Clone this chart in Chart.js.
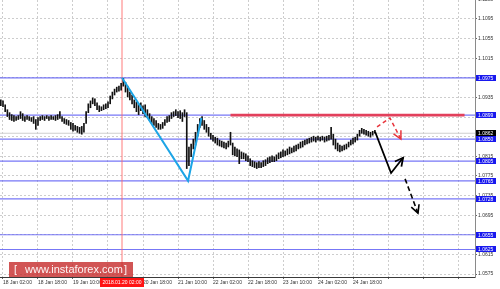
<!DOCTYPE html>
<html><head><meta charset="utf-8">
<style>html,body{margin:0;padding:0;background:#fff;}#wrap{width:500px;height:289px;position:relative;}</style>
<script src="https://cdn.jsdelivr.net/npm/chart.js@4"></script>
</head><body><div id="wrap"><canvas id="c"></canvas></div>
<script>
// ---- data (hourly bars, hour 0 = 18 Jan 02:00) ----
const firstHour = -1;
const barLows = [
1.0918,1.0916,1.0906,1.0896,1.0890,1.0888,1.0886,1.0888,1.0890,1.0892,
1.0888,1.0886,1.0890,1.0888,1.0886,1.0882,1.0870,1.0878,1.0888,1.0890,
1.0888,1.0892,1.0888,1.0890,1.0890,1.0888,1.0890,1.0892,1.0886,1.0882,
1.0880,1.0878,1.0870,1.0866,1.0868,1.0864,1.0862,1.0860,1.0864,1.0882,
1.0904,1.0914,1.0922,1.0918,1.0910,1.0906,1.0908,1.0910,1.0912,1.0914,
1.0922,1.0932,1.0940,1.0946,1.0948,1.0950,1.0958,1.0946,1.0936,1.0930,
1.0922,1.0914,1.0906,1.0900,1.0908,1.0902,1.0896,1.0894,1.0888,1.0882,
1.0878,1.0874,1.0870,1.0870,1.0872,1.0878,1.0884,1.0886,1.0892,1.0896,
1.0898,1.0894,1.0892,1.0886,1.0896,1.0790,1.0796,1.0814,1.0830,1.0838,
1.0856,1.0874,1.0878,1.0870,1.0864,1.0856,1.0850,1.0846,1.0842,1.0838,
1.0836,1.0834,1.0832,1.0830,1.0834,1.0838,1.0818,1.0816,1.0814,1.0800,
1.0810,1.0810,1.0806,1.0804,1.0796,1.0794,1.0792,1.0790,1.0792,1.0792,
1.0794,1.0796,1.0800,1.0802,1.0804,1.0804,1.0806,1.0810,1.0812,1.0814,
1.0816,1.0818,1.0820,1.0822,1.0824,1.0826,1.0830,1.0832,1.0834,1.0838,
1.0840,1.0842,1.0844,1.0846,1.0844,1.0848,1.0846,1.0848,1.0844,1.0846,
1.0848,1.0850,1.0838,1.0830,1.0826,1.0824,1.0826,1.0828,1.0830,1.0834,
1.0838,1.0840,1.0844,1.0848,1.0856,1.0862,1.0860,1.0858,1.0856,1.0854,
1.0858,1.0862];
const barHighs = [
1.0930,1.0928,1.0920,1.0910,1.0904,1.0900,1.0898,1.0896,1.0898,1.0906,
1.0902,1.0896,1.0898,1.0896,1.0894,1.0896,1.0890,1.0894,1.0896,1.0898,
1.0896,1.0898,1.0896,1.0898,1.0896,1.0898,1.0900,1.0906,1.0896,1.0892,
1.0890,1.0888,1.0884,1.0882,1.0878,1.0876,1.0874,1.0876,1.0882,1.0906,
1.0922,1.0928,1.0934,1.0932,1.0924,1.0918,1.0916,1.0920,1.0922,1.0926,
1.0938,1.0946,1.0952,1.0956,1.0958,1.0964,1.0974,1.0966,1.0958,1.0946,
1.0940,1.0930,1.0926,1.0922,1.0924,1.0918,1.0920,1.0910,1.0902,1.0896,
1.0892,1.0888,1.0882,1.0880,1.0884,1.0890,1.0896,1.0898,1.0904,1.0906,
1.0910,1.0906,1.0908,1.0904,1.0910,1.0904,1.0834,1.0840,1.0850,1.0864,
1.0880,1.0892,1.0896,1.0888,1.0880,1.0874,1.0862,1.0858,1.0854,1.0852,
1.0848,1.0846,1.0844,1.0842,1.0846,1.0864,1.0842,1.0834,1.0830,1.0828,
1.0824,1.0822,1.0820,1.0816,1.0810,1.0806,1.0804,1.0802,1.0804,1.0802,
1.0806,1.0808,1.0812,1.0814,1.0816,1.0814,1.0818,1.0822,1.0824,1.0828,
1.0826,1.0830,1.0834,1.0832,1.0836,1.0838,1.0840,1.0844,1.0846,1.0848,
1.0850,1.0852,1.0854,1.0856,1.0854,1.0856,1.0854,1.0856,1.0854,1.0856,
1.0858,1.0874,1.0860,1.0850,1.0842,1.0838,1.0836,1.0838,1.0840,1.0844,
1.0848,1.0852,1.0854,1.0860,1.0868,1.0872,1.0870,1.0868,1.0866,1.0864,
1.0866,1.0868];

const xTickHours = [0,16,32,48,64,80,96,112,128,144,160,176,192,208];
const xTickLabels = ["18 Jan 02:00","18 Jan 18:00","19 Jan 10:00","20 Jan 02:00","20 Jan 18:00",
  "21 Jan 10:00","22 Jan 02:00","22 Jan 18:00","23 Jan 10:00","24 Jan 02:00","24 Jan 18:00"];
const yTickValues = [1.1135,1.1095,1.1055,1.1015,1.0975,1.0935,1.0895,1.0855,1.0815,1.0775,1.0735,1.0695,1.0655,1.0615,1.0575];

const levelValues = [1.0975,1.0899,1.0850,1.0805,1.0765,1.0728,1.0655,1.0625];
const currentPrice = 1.0862;
const resistanceLevel = 1.0899;
const resistanceHours = [104, 211];
const crosshairHour = 54.4;
const crosshairLabel = "2018.01.20 02:00";

const waveHours = [54.4, 84.6, 90.7];
const wavePrices = [1.0975, 1.0765, 1.0893];
const mainArrowHours = [170.1, 177.4, 182.9];
const mainArrowPrices = [1.0865, 1.0781, 1.0812];
const nextArrowHours = [183.8, 189.7];
const nextArrowPrices = [1.0769, 1.0699];
const altArrowHours = [171.0, 176.9, 181.9];
const altArrowPrices = [1.0875, 1.0893, 1.0850];
const watermarkText = ["[", "www.instaforex.com", "]"];

// ---- chart ----
const X_MIN = -1.371, X_MAX = 215.77;
const Y_MIN = 1.05689, Y_MAX = 1.11337;
const FONT = 'Liberation Sans';
Chart.defaults.font.family = FONT;

const pts = (xs, ys) => xs.map((x, i) => ({x, y: ys[i]}));
const lineDs = (data, color, width, extra) => Object.assign({
  type: 'line', data, borderColor: color, borderWidth: width, pointRadius: 0,
  fill: false, tension: 0
}, extra || {});

const datasets = [];
levelValues.forEach(v => datasets.push(lineDs(pts([X_MIN, X_MAX], [v, v]), 'rgba(95,95,245,0.85)', 1.2, {order: 10})));
datasets.push(lineDs(pts([X_MIN, X_MAX], [currentPrice, currentPrice]), '#cfcfcf', 1, {order: 11}));
datasets.push(lineDs(pts([crosshairHour, crosshairHour], [Y_MIN, Y_MAX]), 'rgba(255,100,100,0.85)', 1, {order: 9}));
datasets.push(lineDs(pts(resistanceHours, [resistanceLevel, resistanceLevel]), '#e2405c', 2.6, {order: 8}));
datasets.push({
  type: 'bar', order: 5,
  data: barLows.map((l, i) => ({x: firstHour + i, y: [l, barHighs[i]]})),
  backgroundColor: '#111', borderWidth: 0, barThickness: 1, grouped: false
});
datasets.push(lineDs(pts(waveHours, wavePrices), '#1da5e6', 2, {order: 3}));
datasets.push(lineDs(pts(mainArrowHours, mainArrowPrices), '#000', 1.8, {order: 2, arrowHead: true}));
datasets.push(lineDs(pts(nextArrowHours, nextArrowPrices), '#000', 1.6, {order: 2, arrowHead: true, borderDash: [5, 3]}));
datasets.push(lineDs(pts(altArrowHours, altArrowPrices), '#e8353d', 1.5, {order: 2, arrowHead: true, borderDash: [4, 3]}));

const arrowPlugin = {
  id: 'arrows',
  afterDatasetsDraw(chart) {
    const ctx = chart.ctx;
    chart.data.datasets.forEach((ds, i) => {
      if (!ds.arrowHead) return;
      const el = chart.getDatasetMeta(i).data;
      const a = el[el.length - 2], b = el[el.length - 1];
      const ang = Math.atan2(b.y - a.y, b.x - a.x);
      const L = 9, spread = 0.48;
      ctx.save();
      ctx.strokeStyle = ds.borderColor; ctx.lineWidth = ds.borderWidth; ctx.setLineDash([]);
      ctx.beginPath();
      ctx.moveTo(b.x - L * Math.cos(ang - spread), b.y - L * Math.sin(ang - spread));
      ctx.lineTo(b.x, b.y);
      ctx.lineTo(b.x - L * Math.cos(ang + spread), b.y - L * Math.sin(ang + spread));
      ctx.stroke();
      ctx.restore();
    });
  }
};

const labelPlugin = {
  id: 'labels',
  afterDraw(chart) {
    const ctx = chart.ctx, ys = chart.scales.y, xs = chart.scales.x, area = chart.chartArea;
    ctx.save();
    ctx.font = '5px ' + FONT;
    ctx.textBaseline = 'middle';
    ctx.textAlign = 'left';
    const box = (v, bg) => {
      const y = ys.getPixelForValue(v);
      ctx.fillStyle = bg;
      ctx.fillRect(area.right + 1, Math.round(y) - 3, 20, 6);
      ctx.fillStyle = '#fff';
      ctx.fillText(v.toFixed(4), area.right + 3, y + 0.5);
    };
    levelValues.forEach(v => box(v, '#1818ee'));
    box(currentPrice, '#000');
    // crosshair time label
    const cx = xs.getPixelForValue(crosshairHour);
    ctx.fillStyle = '#ff1414';
    ctx.fillRect(Math.round(cx) - 22, area.bottom + 1, 44, 9);
    ctx.fillStyle = '#fff';
    ctx.textAlign = 'center';
    ctx.fillText(crosshairLabel, cx, area.bottom + 5.5);
    // watermark
    ctx.fillStyle = 'rgba(198,42,42,0.8)';
    ctx.fillRect(9, area.bottom - 15, 124, 15);
    ctx.fillStyle = 'rgba(255,255,255,0.95)';
    ctx.textAlign = 'left';
    ctx.font = '11px ' + FONT;
    ctx.fillText(watermarkText[0], 14, area.bottom - 7);
    ctx.fillText(watermarkText[1], 25, area.bottom - 7);
    ctx.fillText(watermarkText[2], 124, area.bottom - 7);
    ctx.restore();
  }
};

new Chart(document.getElementById('c'), {
  type: 'bar',
  data: {datasets},
  options: {
    responsive: true, maintainAspectRatio: false, animation: false, events: [],
    layout: {padding: 0},
    plugins: {legend: {display: false}, tooltip: {enabled: false}},
    scales: {
      x: {
        type: 'linear', position: 'bottom', min: X_MIN, max: X_MAX, bounds: 'data', offset: false,
        grid: {color: '#cdcdcd', lineWidth: 1, tickLength: 2, tickColor: '#666', offset: false},
        border: {display: true, color: '#3a3a3a', width: 1, dash: [2, 2]},
        ticks: {align: 'start', autoSkip: false, maxRotation: 0, minRotation: 0, padding: 1,
          font: {family: FONT, size: 5}, color: '#333',
          callback: (v, i) => xTickLabels[i] || ''},
        afterBuildTicks: s => { s.ticks = xTickHours.map(v => ({value: v})); },
        afterFit: s => { s.height = 12; s.paddingLeft = 0; s.paddingRight = 0; }
      },
      y: {
        type: 'linear', position: 'right', min: Y_MIN, max: Y_MAX, bounds: 'data', beginAtZero: false,
        grid: {color: '#cdcdcd', lineWidth: 1, tickLength: 2, tickColor: '#666'},
        border: {display: true, color: '#8a8a8a', width: 1, dash: [2, 2]},
        ticks: {padding: 1, font: {family: FONT, size: 5}, color: '#333', autoSkip: false,
          callback: v => v.toFixed(4)},
        afterBuildTicks: s => { s.ticks = yTickValues.map(v => ({value: v})); },
        afterFit: s => { s.width = 25; s.paddingTop = 0; s.paddingBottom = 0; }
      }
    }
  },
  plugins: [arrowPlugin, labelPlugin]
});
</script>
</body></html>
